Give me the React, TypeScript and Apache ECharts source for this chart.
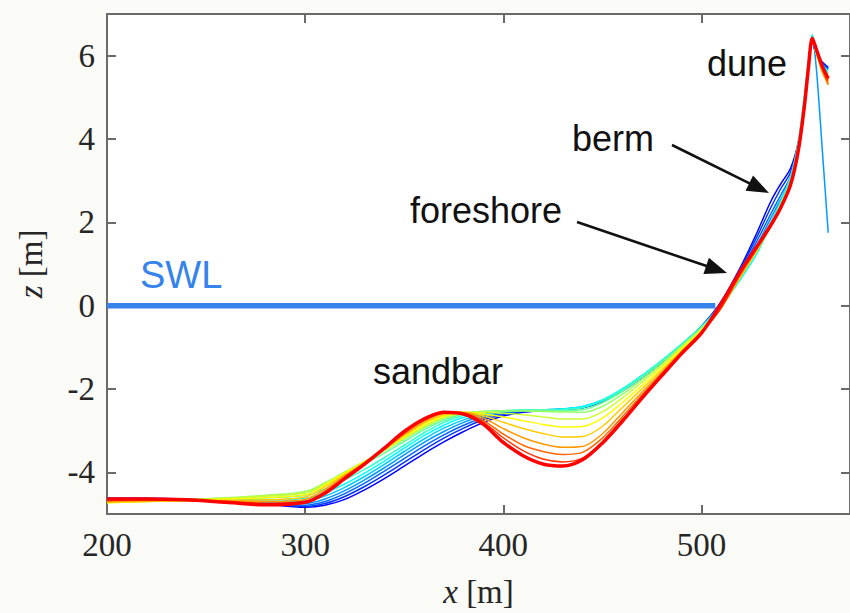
import React, { useEffect, useRef } from "react";
import * as echarts from "echarts";

// cross-shore positions x [m]
const xPositions = [200, 220, 240, 260, 280, 300, 310, 320, 330, 340, 350, 360, 370, 380, 390, 400, 410, 420, 430, 440, 450, 460, 470, 480, 490, 500, 510, 520, 528, 535, 540, 545, 549, 552, 554, 556, 558, 561, 564];

// bed elevation z [m] of each surveyed profile, first (blue) to last (red)
const profile00 = [-4.62, -4.62, -4.64, -4.68, -4.76, -4.84, -4.79, -4.65, -4.42, -4.15, -3.85, -3.55, -3.27, -3.02, -2.8, -2.65, -2.56, -2.52, -2.49, -2.45, -2.3, -2.05, -1.72, -1.35, -0.95, -0.5, 0.1, 0.95, 1.75, 2.5, 2.92, 3.3, 3.95, 4.9, 5.7, 6.35, 6.0, 5.85, 5.72];
const profile01 = [-4.62, -4.63, -4.65, -4.69, -4.76, -4.82, -4.75, -4.58, -4.34, -4.06, -3.76, -3.46, -3.18, -2.94, -2.74, -2.61, -2.54, -2.51, -2.49, -2.45, -2.3, -2.05, -1.72, -1.36, -0.96, -0.5, 0.08, 0.92, 1.65, 2.35, 2.8, 3.2, 3.9, 4.9, 5.7, 6.38, 6.02, 5.83, 5.7];
const profile02 = [-4.63, -4.64, -4.66, -4.69, -4.75, -4.79, -4.7, -4.51, -4.26, -3.97, -3.67, -3.37, -3.1, -2.87, -2.69, -2.58, -2.53, -2.51, -2.48, -2.44, -2.29, -2.04, -1.71, -1.35, -0.95, -0.5, 0.06, 0.88, 1.55, 2.2, 2.65, 3.1, 3.85, 4.9, 5.72, 6.4, 6.05, 5.8, 5.68];
const profile03 = [-4.64, -4.65, -4.66, -4.68, -4.73, -4.75, -4.64, -4.44, -4.18, -3.89, -3.58, -3.28, -3.02, -2.8, -2.64, -2.56, -2.52, -2.5, -2.48, -2.43, -2.28, -2.03, -1.7, -1.34, -0.94, -0.5, 0.05, 0.82, 1.45, 2.1, 2.55, 3.05, 3.85, 4.9, 5.75, 6.42, 5.7, 3.75, 1.75];
const profile04 = [-4.66, -4.66, -4.66, -4.67, -4.7, -4.69, -4.57, -4.36, -4.1, -3.81, -3.5, -3.2, -2.94, -2.74, -2.6, -2.54, -2.51, -2.5, -2.48, -2.42, -2.27, -2.02, -1.69, -1.33, -0.93, -0.5, 0.03, 0.75, 1.35, 2.0, 2.5, 3.05, 3.85, 4.95, 5.8, 6.45, 6.05, 5.78, 5.65];
const profile05 = [-4.68, -4.67, -4.66, -4.66, -4.66, -4.63, -4.49, -4.28, -4.02, -3.73, -3.42, -3.12, -2.87, -2.68, -2.57, -2.53, -2.51, -2.5, -2.48, -2.42, -2.26, -2.0, -1.67, -1.31, -0.92, -0.52, -0.02, 0.65, 1.25, 1.95, 2.5, 3.1, 3.95, 5.05, 5.85, 6.5, 6.08, 5.75, 5.62];
const profile06 = [-4.7, -4.68, -4.66, -4.64, -4.61, -4.55, -4.4, -4.18, -3.93, -3.65, -3.35, -3.05, -2.8, -2.63, -2.55, -2.52, -2.51, -2.5, -2.49, -2.45, -2.28, -2.02, -1.69, -1.33, -0.93, -0.52, 0.0, 0.7, 1.3, 1.95, 2.45, 3.05, 3.95, 5.0, 5.85, 6.48, 6.08, 5.72, 5.58];
const profile07 = [-4.72, -4.69, -4.66, -4.62, -4.57, -4.49, -4.3, -4.06, -3.8, -3.54, -3.26, -2.98, -2.75, -2.6, -2.54, -2.52, -2.51, -2.51, -2.52, -2.5, -2.33, -2.06, -1.72, -1.35, -0.95, -0.53, 0.0, 0.72, 1.32, 1.95, 2.45, 3.0, 3.9, 4.95, 5.8, 6.45, 6.05, 5.7, 5.55];
const profile08 = [-4.72, -4.69, -4.66, -4.61, -4.55, -4.46, -4.25, -3.99, -3.74, -3.48, -3.2, -2.93, -2.71, -2.58, -2.54, -2.53, -2.53, -2.54, -2.55, -2.56, -2.42, -2.13, -1.78, -1.4, -0.98, -0.55, -0.02, 0.72, 1.32, 1.95, 2.42, 2.98, 3.85, 4.92, 5.78, 6.45, 6.05, 5.68, 5.5];
const profile09 = [-4.73, -4.7, -4.66, -4.62, -4.57, -4.49, -4.27, -4.0, -3.74, -3.47, -3.18, -2.9, -2.68, -2.57, -2.56, -2.58, -2.62, -2.67, -2.72, -2.72, -2.55, -2.22, -1.84, -1.44, -1.0, -0.57, -0.03, 0.72, 1.33, 1.93, 2.4, 2.95, 3.82, 4.9, 5.76, 6.43, 6.05, 5.65, 5.45];
const profile10 = [-4.73, -4.7, -4.67, -4.64, -4.61, -4.54, -4.31, -4.02, -3.75, -3.46, -3.15, -2.86, -2.65, -2.56, -2.6, -2.67, -2.76, -2.85, -2.91, -2.9, -2.7, -2.33, -1.92, -1.5, -1.04, -0.6, -0.04, 0.72, 1.33, 1.92, 2.38, 2.92, 3.8, 4.85, 5.75, 6.42, 6.05, 5.62, 5.4];
const profile11 = [-4.72, -4.7, -4.68, -4.67, -4.66, -4.59, -4.35, -4.05, -3.77, -3.45, -3.12, -2.82, -2.62, -2.56, -2.64, -2.8, -2.95, -3.07, -3.15, -3.14, -2.9, -2.45, -2.0, -1.55, -1.08, -0.62, -0.05, 0.72, 1.33, 1.9, 2.35, 2.9, 3.78, 4.82, 5.72, 6.42, 6.08, 5.6, 5.35];
const profile12 = [-4.7, -4.68, -4.68, -4.69, -4.7, -4.65, -4.41, -4.08, -3.78, -3.44, -3.09, -2.78, -2.59, -2.57, -2.7, -2.95, -3.17, -3.32, -3.4, -3.38, -3.08, -2.58, -2.08, -1.6, -1.1, -0.63, -0.05, 0.74, 1.35, 1.9, 2.33, 2.88, 3.76, 4.8, 5.7, 6.4, 6.1, 5.62, 5.3];
const profile13 = [-4.68, -4.66, -4.67, -4.7, -4.74, -4.7, -4.46, -4.11, -3.79, -3.43, -3.06, -2.75, -2.58, -2.58, -2.76, -3.08, -3.35, -3.5, -3.57, -3.52, -3.18, -2.67, -2.14, -1.63, -1.12, -0.64, -0.05, 0.78, 1.37, 1.9, 2.32, 2.88, 3.75, 4.8, 5.7, 6.4, 6.12, 5.68, 5.32];
const profile14 = [-4.66, -4.65, -4.67, -4.71, -4.76, -4.72, -4.48, -4.13, -3.8, -3.42, -3.04, -2.73, -2.57, -2.59, -2.8, -3.17, -3.48, -3.68, -3.75, -3.66, -3.27, -2.74, -2.19, -1.66, -1.14, -0.65, -0.05, 0.82, 1.4, 1.92, 2.34, 2.9, 3.75, 4.8, 5.7, 6.4, 6.13, 5.72, 5.4];
const profile15 = [-4.64, -4.64, -4.66, -4.72, -4.78, -4.72, -4.5, -4.15, -3.8, -3.42, -3.02, -2.72, -2.56, -2.6, -2.85, -3.28, -3.6, -3.8, -3.85, -3.7, -3.3, -2.78, -2.22, -1.68, -1.15, -0.66, 0.05, 0.85, 1.42, 1.93, 2.35, 2.9, 3.75, 4.8, 5.7, 6.42, 6.15, 5.75, 5.45];

const profiles = [profile00, profile01, profile02, profile03, profile04, profile05, profile06, profile07, profile08, profile09, profile10, profile11, profile12, profile13, profile14, profile15];

// still water level
const swlX = [200, 507];
const swlZ = [0, 0];

// axis ticks
const xTicks = [200, 300, 400, 500];
const zTicks = [-4, -2, 0, 2, 4, 6];

function jet(t: number): string {
  const c = (v: number) => Math.round(255 * Math.max(0, Math.min(1, v)));
  const r = c(1.5 - Math.abs(4 * t - 3));
  const g = c(1.5 - Math.abs(4 * t - 2));
  const b = c(1.5 - Math.abs(4 * t - 1));
  return `rgb(${r},${g},${b})`;
}

function arrow(x1: number, y1: number, x2: number, y2: number) {
  const dx = x2 - x1;
  const dy = y2 - y1;
  const len = Math.hypot(dx, dy);
  const ux = dx / len;
  const uy = dy / len;
  const L = 22;
  const W = 8.5;
  const bx = x2 - ux * L;
  const by = y2 - uy * L;
  return [
    { type: "line", shape: { x1, y1, x2: bx + ux * 2, y2: by + uy * 2 }, style: { stroke: "#111", lineWidth: 2.6 }, silent: true },
    {
      type: "polygon",
      shape: { points: [[x2, y2], [bx - uy * W, by + ux * W], [bx + uy * W, by - ux * W]] },
      style: { fill: "#111" },
      silent: true,
    },
  ];
}

export default function App() {
  const ref = useRef<HTMLDivElement>(null);
  useEffect(() => {
    if (!ref.current) return;
    const chart = echarts.init(ref.current, null, { renderer: "svg" });
    const n = profiles.length;
    const labelFont = { fontFamily: "Liberation Serif", fontSize: 33, color: "#262626" };
    const axisLine = { show: true, onZero: false, lineStyle: { color: "#6a6a6a", width: 2 } };
    const tickStyle = { inside: true, length: 9, lineStyle: { color: "#6a6a6a", width: 2 } };
    const series: any[] = [
      {
        type: "line",
        data: swlX.map((x, i) => [x, swlZ[i]]),
        showSymbol: false,
        lineStyle: { color: "#3683ec", width: 5.5 },
        z: 1,
        silent: true,
      },
    ];
    profiles.forEach((p, i) => {
      const t = 0.125 + (0.75 * i) / (n - 1);
      series.push({
        type: "line",
        data: xPositions.map((x, j) => [x, p[j]]),
        showSymbol: false,
        smooth: 0.3,
        lineStyle: { color: jet(t), width: i === n - 1 ? 3.5 : 1.5 },
        z: 2 + i,
        silent: true,
      });
    });
    const annFont = "Liberation Sans";
    const rich = { i: { fontFamily: "Liberation Serif", fontStyle: "italic", fontSize: 33, color: "#262626" } };
    chart.setOption({
      animation: false,
      backgroundColor: "#fafaf6",
      grid: { left: 107, top: 14, right: -2, bottom: 99, show: true, backgroundColor: "#ffffff", borderWidth: 0 },
      xAxis: [
        {
          type: "value",
          min: 200,
          max: 575,
          position: "bottom",
          axisLine,
          axisTick: { ...tickStyle, customValues: xTicks },
          axisLabel: { ...labelFont, margin: 14, customValues: xTicks },
          splitLine: { show: false },
          name: "{i|x} [m]",
          nameLocation: "middle",
          nameGap: 61,
          nameTextStyle: { ...labelFont, rich },
        },
        {
          type: "value",
          min: 200,
          max: 575,
          position: "top",
          axisLine,
          axisTick: { ...tickStyle, customValues: xTicks },
          axisLabel: { show: false },
          splitLine: { show: false },
        },
      ],
      yAxis: [
        {
          type: "value",
          min: -5,
          max: 7,
          position: "left",
          axisLine,
          axisTick: { ...tickStyle, customValues: zTicks },
          axisLabel: { ...labelFont, margin: 12, customValues: zTicks },
          splitLine: { show: false },
          name: "{i|z} [m]",
          nameLocation: "middle",
          nameGap: 60,
          nameRotate: 90,
          nameTextStyle: { ...labelFont, rich },
        },
        {
          type: "value",
          min: -5,
          max: 7,
          position: "right",
          axisLine,
          axisTick: { ...tickStyle, customValues: zTicks },
          axisLabel: { show: false },
          splitLine: { show: false },
        },
      ],
      series,
      graphic: [
        { type: "text", x: 140, y: 275, style: { text: "SWL", font: `38px "${annFont}"`, fill: "#3683ec", textVerticalAlign: "middle" }, silent: true },
        { type: "text", x: 373, y: 371, style: { text: "sandbar", font: `36px "${annFont}"`, fill: "#111", textVerticalAlign: "middle" }, silent: true },
        { type: "text", x: 707, y: 63, style: { text: "dune", font: `36px "${annFont}"`, fill: "#111", textVerticalAlign: "middle" }, silent: true },
        { type: "text", x: 572, y: 138, style: { text: "berm", font: `36px "${annFont}"`, fill: "#111", textVerticalAlign: "middle" }, silent: true },
        { type: "text", x: 410, y: 210, style: { text: "foreshore", font: `36px "${annFont}"`, fill: "#111", textVerticalAlign: "middle" }, silent: true },
        ...arrow(672, 145, 769, 193),
        ...arrow(577, 222, 727, 273),
      ],
    });
    return () => chart.dispose();
  }, []);
  return <div ref={ref} style={{ position: "fixed", left: 0, top: 0, width: 850, height: 613 }} />;
}
